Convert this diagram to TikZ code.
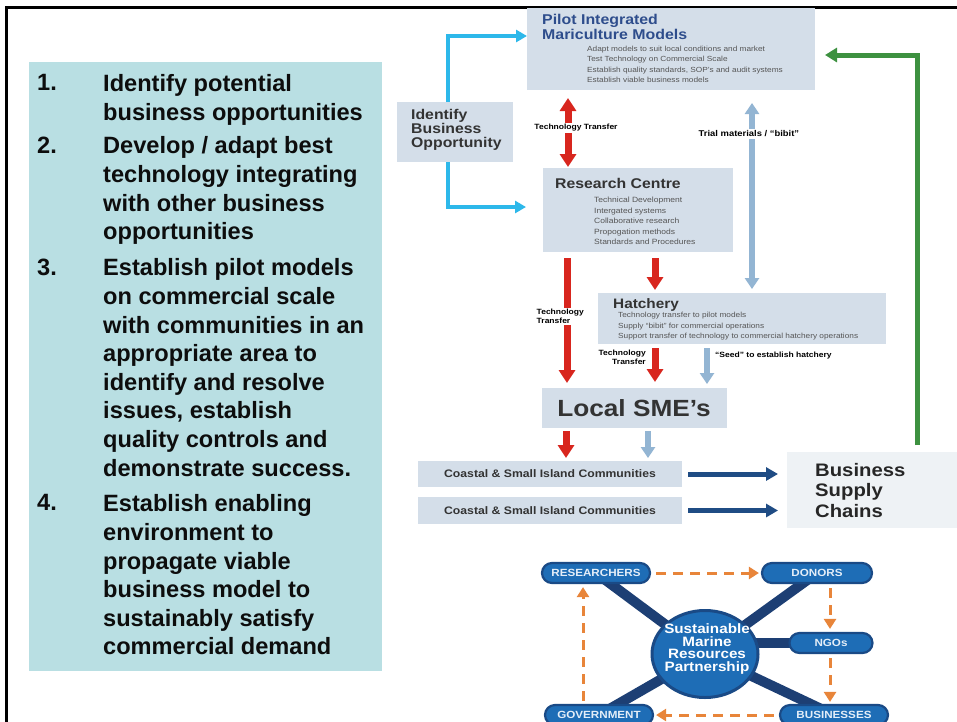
\documentclass[tikz,border=0pt]{standalone}
\usepackage{fontspec}
\setmainfont{Liberation Sans}[FakeStretch=1.12]
\newfontfamily\panelfont{Liberation Sans}
\usetikzlibrary{arrows.meta,calc,shapes.geometric}
\definecolor{panel}{HTML}{B9DFE3}
\definecolor{boxfill}{HTML}{D4DEE9}
\definecolor{bscfill}{HTML}{EEF2F5}
\definecolor{redarr}{HTML}{D8261E}
\definecolor{steel}{HTML}{93B5D3}
\definecolor{cyanarr}{HTML}{2DB8EA}
\definecolor{navyarr}{HTML}{1F4C84}
\definecolor{greenarr}{HTML}{3D9140}
\definecolor{titleblue}{HTML}{2E4D8C}
\definecolor{txtdark}{HTML}{333333}
\definecolor{txtgrey}{HTML}{555555}
\definecolor{pillblue}{HTML}{1E6DB6}
\definecolor{pilledge}{HTML}{1A4A86}
\definecolor{spoke}{HTML}{1D3F74}
\definecolor{orangearr}{HTML}{E8853A}
\definecolor{pilltext}{HTML}{E4EEF8}
\pgfdeclarelayer{back}
\pgfdeclarelayer{bg}
\pgfsetlayers{back,bg,main}
\begin{document}
\begin{tikzpicture}[x=1pt,y=-1pt,
  box/.style={draw=none,fill=boxfill,anchor=north west,inner sep=0pt,outer sep=0pt},
  txt/.style={inner sep=0pt,anchor=north west,align=left},
  lefttxt/.style={txt,text=black!95,font=\panelfont\fontsize{23.6}{28.6}\selectfont\bfseries},
  small/.style={txt,text=txtgrey,font=\fontsize{7.4}{10.4}\selectfont},
  lbl/.style={inner sep=1.5pt,fill=white,text=black,font=\fontsize{7.6}{9}\selectfont\bfseries},
  redar/.style={draw=redarr,line width=7pt,-{Triangle[width=16pt,length=13pt]}},
  redboth/.style={draw=redarr,line width=7pt,{Triangle[width=16pt,length=13pt]}-{Triangle[width=16pt,length=13pt]}},
  steelar/.style={draw=steel,line width=6pt,-{Triangle[width=14pt,length=11pt]}},
  steelboth/.style={draw=steel,line width=6pt,{Triangle[width=14pt,length=11pt]}-{Triangle[width=14pt,length=11pt]}},
  cyanar/.style={draw=cyanarr,line width=3.5pt,-{Triangle[width=12pt,length=11pt]}},
  navyar/.style={draw=navyarr,line width=5pt,-{Triangle[width=13pt,length=12pt]}},
  greenar/.style={draw=greenarr,line width=5pt,-{Triangle[width=14pt,length=12pt]}},
  pill/.style={draw=pilledge,line width=2.2pt,fill=pillblue,rounded corners=10pt,minimum height=20pt,inner sep=0pt,text=pilltext,font=\fontsize{10.4}{11}\selectfont\bfseries},
  spokeln/.style={draw=spoke,line width=10pt},
  orar/.style={draw=orangearr,line width=3pt,dash pattern=on 10pt off 7pt,-{Triangle[width=12pt,length=10pt]}}
]
\useasboundingbox (0,0) rectangle (957,721);
\clip (0,0) rectangle (957,721);
\begin{pgfonlayer}{back}
\fill[white] (0,0) rectangle (957,721);
\end{pgfonlayer}
% frame
\draw[line width=3pt,black] (6.5,725) -- (6.5,7.5) -- (960,7.5);

% left panel
\node[box,fill=panel,minimum width=353pt,minimum height=609pt] (panel) at (29,62) {};
\node[lefttxt] (n1) at (37,74.5) {1.};
\node[lefttxt] (t1) at (103,74.5) {Identify potential\\business opportunities};
\node[lefttxt] (n2) at (37,136.5) {2.};
\node[lefttxt] (t2) at (103,136.5) {Develop / adapt best\\technology integrating\\with other business\\opportunities};
\node[lefttxt] (n3) at (37,258.5) {3.};
\node[lefttxt] (t3) at (103,258.5) {Establish pilot models\\on commercial scale\\with communities in an\\appropriate area to\\identify and resolve\\issues, establish\\quality controls and\\demonstrate success.};
\node[lefttxt] (n4) at (37,494.5) {4.};
\node[lefttxt] (t4) at (103,494.5) {Establish enabling\\environment to\\propagate viable\\business model to\\sustainably satisfy\\commercial demand};

% pilot box
\node[box,minimum width=288pt,minimum height=82pt] (pilot) at (527,8) {};
\node[txt,text=titleblue,font=\fontsize{14.2}{14.2}\selectfont\bfseries] (pilott) at (542,14.5) {Pilot Integrated\\Mariculture Models};
\node[small] (pilots) at (587,46) {Adapt models to suit local conditions and market\\Test Technology on Commercial Scale\\Establish quality standards, SOP’s and audit systems\\Establish viable business models};

% identify
\node[box,minimum width=116pt,minimum height=60pt] (ident) at (397,102) {};
\node[txt,text=txtdark,font=\fontsize{14.1}{14}\selectfont\bfseries] (identt) at (411,109.5) {Identify\\Business\\Opportunity};

% research centre
\node[box,minimum width=190pt,minimum height=84pt] (rc) at (543,168) {};
\node[txt,text=txtdark,font=\fontsize{14.1}{14}\selectfont\bfseries] (rct) at (555,178.5) {Research Centre};
\node[small,font=\fontsize{7.6}{10.5}\selectfont] (rcs) at (594,197) {Technical Development\\Intergated systems\\Collaborative research\\Propogation methods\\Standards and Procedures};

% hatchery
\node[box,minimum width=288pt,minimum height=51pt] (hat) at (598,293) {};
\node[txt,text=txtdark,font=\fontsize{13.7}{14}\selectfont\bfseries] (hatt) at (613,298.5) {Hatchery};
\node[small,font=\fontsize{7.4}{10.5}\selectfont] (hats) at (618,312) {Technology transfer to pilot models\\Supply “bibit” for commercial operations\\Support transfer of technology to commercial hatchery operations};

% SME
\node[box,minimum width=185pt,minimum height=40pt] (sme) at (542,388) {};
\node[inner sep=0pt,text=txtdark,font=\fontsize{23.4}{24}\selectfont\bfseries] (smet) at (634,408) {Local SME’s};

% coastal
\node[box,minimum width=264pt,minimum height=26pt] (c1) at (418,461) {};
\node[inner sep=0pt,text=txtdark,font=\fontsize{10.9}{11}\selectfont\bfseries] (c1t) at (c1.center) {Coastal \& Small Island Communities};
\node[box,minimum width=264pt,minimum height=27pt] (c2) at (418,497) {};
\node[inner sep=0pt,text=txtdark,font=\fontsize{10.9}{11}\selectfont\bfseries] (c2t) at (c2.center) {Coastal \& Small Island Communities};

% business supply chains
\node[box,fill=bscfill,minimum width=175pt,minimum height=76pt] (bsc) at (787,452) {};
\node[txt,text=black!85,font=\fontsize{18.1}{20.5}\selectfont\bfseries] (bsct) at (815,463) {Business\\Supply\\Chains};

% cyan arrows
\draw[cyanar] ([xshift=-7pt]ident.north) |- ($(pilot.north west)+(0,28)$);
\draw[cyanar] ([xshift=-7pt]ident.south) |- ($(rc.north west)+(-17,39)$);

% red TT between pilot and rc
\draw[redboth] ($(pilot.south west)+(41,8)$) -- ($(rc.north west)+(25,-1)$);
\node[lbl] (tt1) at (576,128) {Technology Transfer};

% steel trial materials
\draw[steelboth] ($(pilot.south west)+(225,13)$) -- ($(hat.north west)+(154,-4)$);
\node[lbl,anchor=west,font=\fontsize{8.4}{9}\selectfont\bfseries] (trial) at (697,134) {Trial materials / “bibit”};

% red from research
\draw[redar] ($(rc.south west)+(24,6)$) -- ($(sme.north west)+(25,-5)$);
\node[lbl,anchor=north west,align=left] (tt2) at (535,307.5) {Technology\\Transfer};
\draw[redar] ($(rc.south west)+(112,6)$) -- ($(hat.north west)+(57,-3)$);

% below hatchery
\draw[redar] ($(hat.south west)+(57,4)$) -- ($(sme.north west)+(113,-6)$);
\node[lbl,fill=none,anchor=north east,align=right,inner sep=0pt] (tt3) at (646,349.5) {Technology\\Transfer};
\draw[steelar] ($(hat.south west)+(109,4)$) -- ($(sme.north west)+(165,-4)$);
\node[lbl,fill=none,anchor=west,inner sep=0pt] (seed) at (715,356) {“Seed” to establish hatchery};

% below SME
\draw[redar] ($(sme.south west)+(24,3)$) -- ($(c1.north west)+(148,-3)$);
\draw[steelar] ($(sme.south west)+(106,3)$) -- ($(c1.north west)+(230,-3)$);

% navy arrows
\draw[navyar] ($(c1.east)+(6,0)$) -- ($(bsc.west |- c1.east)+(-9,0)$);
\draw[navyar] ($(c2.east)+(6,0)$) -- ($(bsc.west |- c2.east)+(-9,0)$);

% green arrow
\draw[greenar] ($(bsc.north west)+(130,-7)$) |- ($(pilot.north east)+(10,47)$);

% partnership
\node[ellipse,draw=pilledge,line width=3pt,fill=pillblue,minimum width=106pt,minimum height=87pt,inner sep=0pt] (hub) at (705,654) {};
\node[inner sep=0pt,align=center,text=white,font=\fontsize{13.6}{12.8}\selectfont\bfseries] (hubt) at (707,649) {Sustainable\\Marine\\Resources\\Partnership};
\node[pill,minimum width=108pt] (res) at (596,573) {RESEARCHERS};
\node[pill,minimum width=110pt] (don) at (817,573) {DONORS};
\node[pill,minimum width=83pt] (ngo) at (831,643) {NGOs};
\node[pill,minimum width=108pt] (gov) at (599,715) {GOVERNMENT};
\node[pill,minimum width=108pt] (bus) at (834,715) {BUSINESSES};
\begin{pgfonlayer}{bg}
\draw[spokeln] (res.center) -- (hub.center);
\draw[spokeln] (don.center) -- (hub.center);
\draw[spokeln] (hub.center |- ngo.center) -- (ngo.center);
\draw[spokeln] (gov.center) -- (hub.center);
\draw[spokeln] (bus.center) -- (hub.center);
\end{pgfonlayer}
\draw[orar] ($(res.east)+(5,0)$) -- ($(don.west)+(-2,0)$);
\draw[orar] ($(don.south)+(13,4)$) -- ($(ngo.north)+(-1,-3)$);
\draw[orar] ($(ngo.south)+(-1,4)$) -- ($(bus.north)+(-4,-2)$);
\draw[orar] ($(bus.west)+(-5,0)$) -- ($(gov.east)+(2,0)$);
\draw[orar] ($(gov.north)+(-16,-3)$) -- ($(res.south)+(-13,3)$);
\end{tikzpicture}
\end{document}
